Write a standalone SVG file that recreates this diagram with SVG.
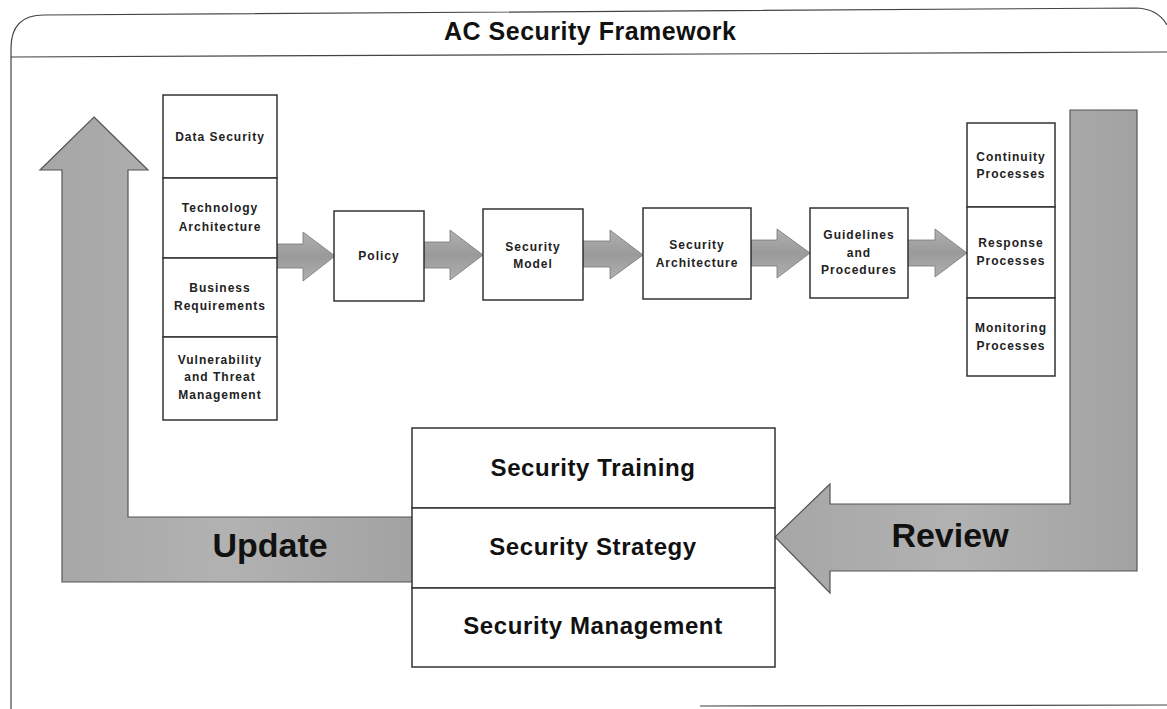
<svg xmlns="http://www.w3.org/2000/svg" width="1167" height="709" viewBox="0 0 1167 709">
<defs>
<linearGradient id="gv" x1="0" y1="0" x2="1" y2="0">
<stop offset="0" stop-color="#a6a6a6"/><stop offset="0.5" stop-color="#b2b2b2"/><stop offset="1" stop-color="#a2a2a2"/>
</linearGradient>
<linearGradient id="gs" x1="0" y1="0" x2="0" y2="1">
<stop offset="0" stop-color="#b0b0b0"/><stop offset="0.5" stop-color="#9a9a9a"/><stop offset="1" stop-color="#b0b0b0"/>
</linearGradient>
<style>
.frame{fill:none;stroke:#444;stroke-width:1.2}
.box{fill:#fff;stroke:#333;stroke-width:1.5}
.big{fill:url(#gv);stroke:#555;stroke-width:1.2}
.sm{fill:url(#gs);stroke:#777;stroke-width:0.8}
.t{font-family:"Liberation Sans",Arial,sans-serif;font-size:12px;font-weight:bold;letter-spacing:1px;fill:#222;text-anchor:middle}
.T{font-family:"Liberation Sans",Arial,sans-serif;font-size:24px;font-weight:bold;letter-spacing:0.6px;fill:#111;text-anchor:middle}
.L{font-family:"Liberation Sans",Arial,sans-serif;font-size:34px;font-weight:bold;fill:#111;text-anchor:middle}
.title{font-family:"Liberation Sans",Arial,sans-serif;font-size:25px;font-weight:bold;fill:#111;text-anchor:middle}
</style>
</defs>
<rect width="1167" height="709" fill="#fff"/>
<g id="frame">
<path class="frame" d="M11,709 L11,48 Q11,15 44,15 L1137,8 Q1158,9 1167,25"/>
<path class="frame" d="M11,57 L1167,52" stroke-width="1.6"/>
<path class="frame" d="M700,706 L1167,705"/>
<text class="title" x="590" y="40" textLength="292">AC Security Framework</text>
</g>
<g id="connectors">
<g id="update-arrow">
<polygon class="big" points="94,117 148,170 128,170 128,517 413,517 413,582 62,582 62,170 40,170"/>
<text class="L" x="270" y="557">Update</text>
</g>
<g id="review-arrow">
<polygon class="big" points="1070,110 1137,110 1137,571 830,571 830,593 775,537 830,484 830,504 1070,504"/>
<text class="L" x="950" y="547">Review</text>
</g>
<polygon class="sm" points="277,244 303,244 303,232 335,256 303,281 303,268 277,268"/>
<polygon class="sm" points="424,242 450,242 450,230 483,255 450,280 450,268 424,268"/>
<polygon class="sm" points="583,241 610,241 610,230 643,255 610,279 610,267 583,267"/>
<polygon class="sm" points="751,240 777,240 777,229 810,253 777,278 777,266 751,266"/>
<polygon class="sm" points="908,240 935,240 935,229 967,253 935,277 935,266 908,266"/>
</g>
<g id="inputs">
<g id="data-security"><rect class="box" x="163" y="95" width="114" height="83"/><text class="t" x="220" y="141">Data Security</text></g>
<g id="technology-architecture"><rect class="box" x="163" y="178" width="114" height="80"/><text class="t" x="220" y="212">Technology</text><text class="t" x="220" y="231">Architecture</text></g>
<g id="business-requirements"><rect class="box" x="163" y="258" width="114" height="79"/><text class="t" x="220" y="292">Business</text><text class="t" x="220" y="310">Requirements</text></g>
<g id="vulnerability"><rect class="box" x="163" y="337" width="114" height="83"/><text class="t" x="220" y="364">Vulnerability</text><text class="t" x="220" y="381">and Threat</text><text class="t" x="220" y="399">Management</text></g>
</g>
<g id="policy"><rect class="box" x="334" y="211" width="90" height="90"/><text class="t" x="379" y="260">Policy</text></g>
<g id="security-model"><rect class="box" x="483" y="209" width="100" height="91"/><text class="t" x="533" y="251">Security</text><text class="t" x="533" y="268">Model</text></g>
<g id="security-architecture"><rect class="box" x="643" y="208" width="108" height="91"/><text class="t" x="697" y="249">Security</text><text class="t" x="697" y="267">Architecture</text></g>
<g id="guidelines"><rect class="box" x="810" y="208" width="98" height="90"/><text class="t" x="859" y="239">Guidelines</text><text class="t" x="859" y="257">and</text><text class="t" x="859" y="274">Procedures</text></g>
<g id="processes">
<g id="continuity"><rect class="box" x="967" y="123" width="88" height="84"/><text class="t" x="1011" y="161">Continuity</text><text class="t" x="1011" y="178">Processes</text></g>
<g id="response"><rect class="box" x="967" y="207" width="88" height="91"/><text class="t" x="1011" y="247">Response</text><text class="t" x="1011" y="265">Processes</text></g>
<g id="monitoring"><rect class="box" x="967" y="298" width="88" height="78"/><text class="t" x="1011" y="332">Monitoring</text><text class="t" x="1011" y="350">Processes</text></g>
</g>
<g id="foundation">
<g id="security-training"><rect class="box" x="412" y="428" width="363" height="80"/><text class="T" x="593" y="476">Security Training</text></g>
<g id="security-strategy"><rect class="box" x="412" y="508" width="363" height="80"/><text class="T" x="593" y="555">Security Strategy</text></g>
<g id="security-management"><rect class="box" x="412" y="588" width="363" height="79"/><text class="T" x="593" y="634">Security Management</text></g>
</g>
</svg>
